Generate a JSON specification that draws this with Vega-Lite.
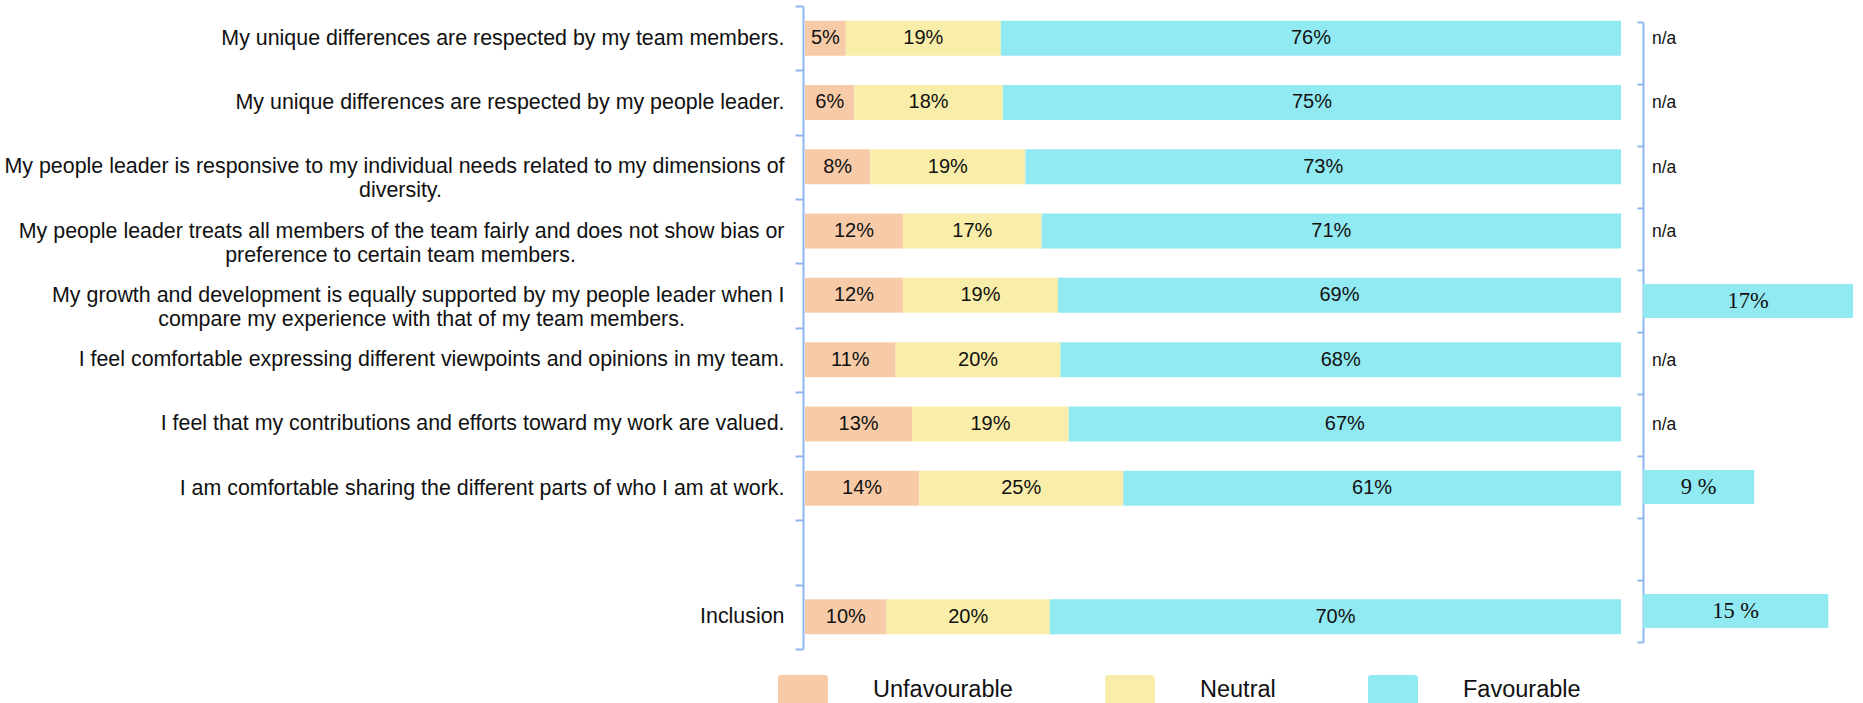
{
  "$schema": "https://vega.github.io/schema/vega-lite/v6.json",
  "autosize": "none",
  "padding": {"left": 803, "top": 0, "right": 0, "bottom": 0},
  "width": 1060,
  "height": 703,
  "background": "white",
  "config": {
    "view": {"stroke": null},
    "font": "Liberation Sans",
    "text": {"font": "Liberation Sans", "color": "#111111"}
  },
  "datasets": {
    "left": [
      {"q": "My unique differences are respected by my team members.", "response": "Unfavourable", "value": 0.05},
      {"q": "My unique differences are respected by my team members.", "response": "Neutral", "value": 0.19},
      {"q": "My unique differences are respected by my team members.", "response": "Favourable", "value": 0.76},
      {"q": "My unique differences are respected by my people leader.", "response": "Unfavourable", "value": 0.06},
      {"q": "My unique differences are respected by my people leader.", "response": "Neutral", "value": 0.18},
      {"q": "My unique differences are respected by my people leader.", "response": "Favourable", "value": 0.75},
      {"q": "My people leader is responsive to my individual needs related to my dimensions of\ndiversity.", "response": "Unfavourable", "value": 0.08},
      {"q": "My people leader is responsive to my individual needs related to my dimensions of\ndiversity.", "response": "Neutral", "value": 0.19},
      {"q": "My people leader is responsive to my individual needs related to my dimensions of\ndiversity.", "response": "Favourable", "value": 0.73},
      {"q": "My people leader treats all members of the team fairly and does not show bias or\npreference to certain team members.", "response": "Unfavourable", "value": 0.12},
      {"q": "My people leader treats all members of the team fairly and does not show bias or\npreference to certain team members.", "response": "Neutral", "value": 0.17},
      {"q": "My people leader treats all members of the team fairly and does not show bias or\npreference to certain team members.", "response": "Favourable", "value": 0.71},
      {"q": "My growth and development is equally supported by my people leader when I\ncompare my experience with that of my team members.", "response": "Unfavourable", "value": 0.12},
      {"q": "My growth and development is equally supported by my people leader when I\ncompare my experience with that of my team members.", "response": "Neutral", "value": 0.19},
      {"q": "My growth and development is equally supported by my people leader when I\ncompare my experience with that of my team members.", "response": "Favourable", "value": 0.69},
      {"q": "I feel comfortable expressing different viewpoints and opinions in my team.", "response": "Unfavourable", "value": 0.11},
      {"q": "I feel comfortable expressing different viewpoints and opinions in my team.", "response": "Neutral", "value": 0.20},
      {"q": "I feel comfortable expressing different viewpoints and opinions in my team.", "response": "Favourable", "value": 0.68},
      {"q": "I feel that my contributions and efforts toward my work are valued.", "response": "Unfavourable", "value": 0.13},
      {"q": "I feel that my contributions and efforts toward my work are valued.", "response": "Neutral", "value": 0.19},
      {"q": "I feel that my contributions and efforts toward my work are valued.", "response": "Favourable", "value": 0.67},
      {"q": "I am comfortable sharing the different parts of who I am at work.", "response": "Unfavourable", "value": 0.14},
      {"q": "I am comfortable sharing the different parts of who I am at work.", "response": "Neutral", "value": 0.25},
      {"q": "I am comfortable sharing the different parts of who I am at work.", "response": "Favourable", "value": 0.61},
      {"q": "Inclusion", "response": "Unfavourable", "value": 0.10},
      {"q": "Inclusion", "response": "Neutral", "value": 0.20},
      {"q": "Inclusion", "response": "Favourable", "value": 0.70}
    ],
    "right": [
      {"q": "My unique differences are respected by my team members.", "value": null, "label": "n/a"},
      {"q": "My unique differences are respected by my people leader.", "value": null, "label": "n/a"},
      {"q": "My people leader is responsive to my individual needs related to my dimensions of\ndiversity.", "value": null, "label": "n/a"},
      {"q": "My people leader treats all members of the team fairly and does not show bias or\npreference to certain team members.", "value": null, "label": "n/a"},
      {"q": "My growth and development is equally supported by my people leader when I\ncompare my experience with that of my team members.", "value": 17, "label": "17%"},
      {"q": "I feel comfortable expressing different viewpoints and opinions in my team.", "value": null, "label": "n/a"},
      {"q": "I feel that my contributions and efforts toward my work are valued.", "value": null, "label": "n/a"},
      {"q": "I am comfortable sharing the different parts of who I am at work.", "value": 9, "label": "9 %"},
      {"q": "Inclusion", "value": 15, "label": "15 %"}
    ]
  },
  "resolve": {"scale": {"x": "independent", "y": "independent"}, "axis": {"x": "independent", "y": "independent"}},
  "layer": [
    {
      "data": {"name": "left"},
      "mark": {"type": "bar", "height": {"band": 0.545}},
      "encoding": {
        "y": {
          "field": "q", "type": "nominal",
          "scale": {
            "domain": [
              "My unique differences are respected by my team members.",
              "My unique differences are respected by my people leader.",
              "My people leader is responsive to my individual needs related to my dimensions of\ndiversity.",
              "My people leader treats all members of the team fairly and does not show bias or\npreference to certain team members.",
              "My growth and development is equally supported by my people leader when I\ncompare my experience with that of my team members.",
              "I feel comfortable expressing different viewpoints and opinions in my team.",
              "I feel that my contributions and efforts toward my work are valued.",
              "I am comfortable sharing the different parts of who I am at work.",
              " ",
              "Inclusion"
            ],
            "range": [6, 649],
            "paddingInner": 0,
            "paddingOuter": 0
          },
          "axis": {
            "title": null,
            "orient": "left",
            "labelFont": "Liberation Sans",
            "labelFontSize": 21.4,
            "labelColor": "#111111",
            "labelPadding": 11,
            "labelLimit": 1200,
            "labelLineHeight": 24,
            "labelExpr": "indexof(datum.label, '\\n') < 0 ? datum.label : [split(datum.label, '\\n')[0], '']",
            "tickSize": 8,
            "tickWidth": 2,
            "tickColor": "#8FB5F2",
            "domainColor": "#8FB5F2",
            "domainWidth": 2,
            "tickBand": "extent"
          }
        },
        "x": {
          "field": "value", "type": "quantitative", "stack": "normalize",
          "scale": {"domain": [0, 1], "range": [2, 818], "nice": false},
          "axis": null
        },
        "color": {
          "field": "response", "type": "nominal",
          "scale": {"domain": ["Unfavourable", "Neutral", "Favourable"], "range": ["#F7CBA8", "#F9EEA9", "#91E9F1"]},
          "legend": {
            "title": null,
            "orient": "none",
            "direction": "horizontal",
            "legendX": -25,
            "legendY": 665,
            "symbolType": "M-0.88,-0.6H0.88Q1,-0.6,1,-0.48V0.48Q1,0.6,0.88,0.6H-0.88Q-1,0.6,-1,0.48V-0.48Q-1,-0.6,-0.88,-0.6Z",
            "symbolSize": 2500,
            "symbolStrokeWidth": 0,
            "symbolOpacity": 1,
            "labelFont": "Liberation Sans",
            "labelFontSize": 23.5,
            "labelColor": "#111111",
            "labelOffset": 45,
            "columnPadding": 92,
            "padding": 0,
            "encode": {
              "labels": {
                "dx": {"condition": {"test": "datum.value === 'Favourable'", "value": -25}, "value": 0}
              }
            }
          }
        },
        "order": {"field": "response", "sort": "descending"}
      }
    },
    {
      "data": {"name": "left"},
      "mark": {"type": "text", "fontSize": 20, "font": "Liberation Sans", "color": "#111111", "align": "center", "baseline": "middle"},
      "encoding": {
        "y": {
          "field": "q", "type": "nominal",
          "scale": {
            "domain": [
              "My unique differences are respected by my team members.",
              "My unique differences are respected by my people leader.",
              "My people leader is responsive to my individual needs related to my dimensions of\ndiversity.",
              "My people leader treats all members of the team fairly and does not show bias or\npreference to certain team members.",
              "My growth and development is equally supported by my people leader when I\ncompare my experience with that of my team members.",
              "I feel comfortable expressing different viewpoints and opinions in my team.",
              "I feel that my contributions and efforts toward my work are valued.",
              "I am comfortable sharing the different parts of who I am at work.",
              " ",
              "Inclusion"
            ],
            "range": [6, 649],
            "paddingInner": 0,
            "paddingOuter": 0
          },
          "axis": {
            "title": null,
            "orient": "left",
            "offset": 403,
            "domain": false,
            "ticks": false,
            "tickSize": 0,
            "labelPadding": 0,
            "labelAlign": "center",
            "labelFont": "Liberation Sans",
            "labelFontSize": 21.4,
            "labelColor": "#111111",
            "labelLimit": 1200,
            "labelLineHeight": 24,
            "labelExpr": "(indexof(datum.label, 'responsive') >= 0 || indexof(datum.label, 'fairly') >= 0) ? ['', split(datum.label, '\\n')[1]] : ''"
          }
        },
        "x": {
          "field": "value", "type": "quantitative", "stack": "normalize", "bandPosition": 0.5,
          "scale": {"domain": [0, 1], "range": [2, 818], "nice": false},
          "axis": null
        },
        "detail": {"field": "response"},
        "order": {"field": "response", "sort": "descending"},
        "text": {"field": "value", "type": "quantitative", "format": ".0%"}
      }
    },
    {
      "data": {"name": "right"},
      "transform": [{"filter": "datum.value == null"}],
      "mark": {"type": "text", "fontSize": 17.5, "font": "Liberation Sans", "color": "#111111", "align": "left", "baseline": "middle", "dx": 31, "dy": 1},
      "encoding": {
        "y": {
          "field": "q", "type": "nominal",
          "scale": {
            "domain": [
              "My unique differences are respected by my team members.",
              "My unique differences are respected by my people leader.",
              "My people leader is responsive to my individual needs related to my dimensions of\ndiversity.",
              "My people leader treats all members of the team fairly and does not show bias or\npreference to certain team members.",
              "My growth and development is equally supported by my people leader when I\ncompare my experience with that of my team members.",
              "I feel comfortable expressing different viewpoints and opinions in my team.",
              "I feel that my contributions and efforts toward my work are valued.",
              "I am comfortable sharing the different parts of who I am at work.",
              " ",
              "Inclusion"
            ],
            "range": [6, 649],
            "paddingInner": 0,
            "paddingOuter": 0
          },
          "axis": {
            "title": null,
            "orient": "left",
            "offset": 382,
            "domain": false,
            "ticks": false,
            "tickSize": 0,
            "labelPadding": 0,
            "labelAlign": "center",
            "labelFont": "Liberation Sans",
            "labelFontSize": 21.4,
            "labelColor": "#111111",
            "labelLimit": 1200,
            "labelLineHeight": 24,
            "labelExpr": "indexof(datum.label, 'growth') >= 0 ? ['', split(datum.label, '\\n')[1]] : ''"
          }
        },
        "x": {
          "datum": 1, "type": "quantitative",
          "scale": {"domain": [0, 1], "range": [2, 818], "nice": false},
          "axis": null
        },
        "text": {"field": "label"}
      }
    },
    {
      "data": {"name": "right"},
      "transform": [{"filter": "datum.value != null"}],
      "layer": [
        {
          "mark": {"type": "bar", "height": {"band": 0.55}, "color": "#91E9F1"},
          "encoding": {
            "y": {
              "field": "q", "type": "nominal",
              "scale": {
                "domain": [
                  "My unique differences are respected by my team members.",
                  "My unique differences are respected by my people leader.",
                  "My people leader is responsive to my individual needs related to my dimensions of\ndiversity.",
                  "My people leader treats all members of the team fairly and does not show bias or\npreference to certain team members.",
                  "My growth and development is equally supported by my people leader when I\ncompare my experience with that of my team members.",
                  "I feel comfortable expressing different viewpoints and opinions in my team.",
                  "I feel that my contributions and efforts toward my work are valued.",
                  "I am comfortable sharing the different parts of who I am at work.",
                  " ",
                  "Inclusion"
                ],
                "range": [22, 642],
                "paddingInner": 0,
                "paddingOuter": 0
              },
              "axis": {
                "title": null,
                "orient": "left",
                "offset": -840,
                "labels": false,
                "tickSize": 6,
                "tickWidth": 2,
                "tickColor": "#8FB5F2",
                "domainColor": "#8FB5F2",
                "domainWidth": 2,
                "tickBand": "extent"
              }
            },
            "x": {
              "field": "value", "type": "quantitative", "stack": "zero",
              "scale": {"domain": [0, 17], "range": [840, 1050], "nice": false},
              "axis": null
            }
          }
        },
        {
          "mark": {"type": "text", "fontSize": 22.5, "font": "Liberation Serif", "color": "#111111", "align": "center", "baseline": "middle"},
          "encoding": {
            "y": {"field": "q", "type": "nominal"},
            "x": {"field": "value", "type": "quantitative", "stack": "zero", "bandPosition": 0.5},
            "text": {"field": "label"}
          }
        }
      ]
    }
  ]
}
